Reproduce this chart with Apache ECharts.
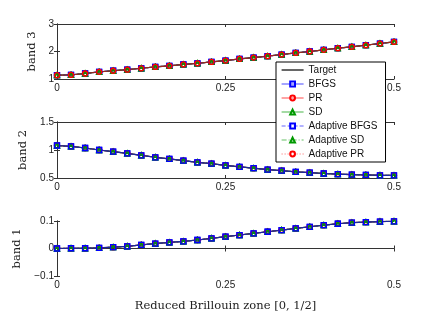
<!DOCTYPE html>
<html>
<head>
<meta charset="utf-8">
<script src="https://cdn.jsdelivr.net/npm/echarts@6/dist/echarts.min.js"></script>
<style>
  html, body { margin: 0; padding: 0; background: #fff; }
  #main { width: 436px; height: 327px; }
</style>
</head>
<body>
<div id="main"></div>
<script>
// k-points along the reduced zone
var kpts = [0, 0.0208, 0.0417, 0.0625, 0.0833, 0.1042, 0.125, 0.1458, 0.1667, 0.1875,
  0.2083, 0.2292, 0.25, 0.2708, 0.2917, 0.3125, 0.3333, 0.3542, 0.375, 0.3958,
  0.4167, 0.4375, 0.4583, 0.4792, 0.5];

// band energies (all methods coincide)
var band3 = [1.14, 1.15, 1.20, 1.26, 1.30, 1.34, 1.39, 1.44, 1.48, 1.53,
  1.57, 1.62, 1.67, 1.73, 1.78, 1.83, 1.89, 1.95, 2.00, 2.06,
  2.12, 2.17, 2.23, 2.29, 2.35];
var band2 = [1.08, 1.064, 1.036, 1.00, 0.97, 0.94, 0.905, 0.87, 0.84, 0.81,
  0.78, 0.755, 0.725, 0.70, 0.675, 0.65, 0.63, 0.61, 0.595, 0.58,
  0.57, 0.56, 0.555, 0.548, 0.546];
var band1 = [0, 0.001, 0.001, 0.002, 0.005, 0.008, 0.013, 0.018, 0.022, 0.026,
  0.031, 0.037, 0.043, 0.049, 0.055, 0.061, 0.067, 0.073, 0.079, 0.085,
  0.090, 0.094, 0.096, 0.098, 0.099];

var bandNames = ['band 3', 'band 2', 'band 1'];
var legendNames = ['Target', 'BFGS', 'PR', 'SD', 'Adaptive BFGS', 'Adaptive SD', 'Adaptive PR'];

var methods = {
  'Target':        { color: '#000000', symbol: 'circle',   type: 'solid' },
  'BFGS':          { color: '#0000ff', symbol: 'rect',     type: 'solid' },
  'PR':            { color: '#ff0000', symbol: 'circle',   type: 'solid' },
  'SD':            { color: '#009900', symbol: 'triangle', type: 'solid' },
  'Adaptive BFGS': { color: '#0000ff', symbol: 'rect',     type: [4, 2] },
  'Adaptive SD':   { color: '#009900', symbol: 'triangle', type: [5, 2, 1, 2] },
  'Adaptive PR':   { color: '#ff0000', symbol: 'circle',   type: [1, 2] }
};

// draw order per panel (last one ends up on top)
var orderTop = ['Target', 'Adaptive BFGS', 'Adaptive SD', 'Adaptive PR', 'BFGS', 'SD', 'PR'];
var orderLow = ['Target', 'Adaptive PR', 'Adaptive SD', 'Adaptive BFGS', 'PR', 'SD', 'BFGS'];

var bands = [band3, band2, band1];
var yRanges = [[1, 3, 1], [0.5, 1.5, 0.5], [-0.1, 0.1, 0.1]];
var grids = [
  { left: 57, right: 42, top: 24, height: 55 },
  { left: 57, right: 42, top: 122, height: 56 },
  { left: 57, right: 42, top: 221, height: 55 }
];

var tickFont = { fontFamily: 'Liberation Sans', fontSize: 10, color: '#222' };
var serif = { fontFamily: 'DejaVu Serif', fontSize: 11.5, color: '#222' };

function fmt(v) {
  var s = String(Math.round(v * 1000) / 1000);
  return s.replace('-', '\u2212');
}

var xAxes = [], yAxes = [], series = [];
for (var g = 0; g < 3; g++) {
  xAxes.push({
    gridIndex: g, type: 'value', min: 0, max: 0.5, interval: 0.25,
    axisLine: { lineStyle: { color: '#333' } },
    axisTick: { inside: true, length: 3, lineStyle: { color: '#333' } },
    axisLabel: Object.assign({ margin: 4, formatter: fmt }, tickFont),
    splitLine: { show: false },
    name: g == 2 ? 'Reduced Brillouin zone [0, 1/2]' : '',
    nameLocation: 'middle', nameGap: 24, nameTextStyle: serif
  });
  xAxes.push({
    gridIndex: g, type: 'value', min: 0, max: 0.5, interval: 0.25, position: 'top',
    axisLine: { lineStyle: { color: '#333' } },
    axisTick: { inside: true, length: 3, lineStyle: { color: '#333' } },
    axisLabel: { show: false }, splitLine: { show: false }
  });
  yAxes.push({
    gridIndex: g, type: 'value', min: yRanges[g][0], max: yRanges[g][1], interval: yRanges[g][2],
    axisLine: { show: true, lineStyle: { color: '#333' } },
    axisTick: { show: true, inside: true, length: 3, lineStyle: { color: '#333' } },
    axisLabel: Object.assign({ margin: 3, formatter: fmt }, tickFont),
    splitLine: { show: false },
    name: bandNames[g], nameLocation: 'middle', nameRotate: 90, nameGap: 18,
    nameTextStyle: serif
  });
  yAxes.push({
    gridIndex: g, type: 'value', min: yRanges[g][0], max: yRanges[g][1], interval: yRanges[g][2],
    position: 'right',
    axisLine: { show: true, lineStyle: { color: '#333' } },
    axisTick: { show: true, inside: true, length: 3, lineStyle: { color: '#333' } },
    axisLabel: { show: false }, splitLine: { show: false }
  });

  var order = g == 0 ? orderTop : orderLow;
  order.forEach(function (name) {
    var m = methods[name];
    var vals = bands[g];
    var isTarget = name == 'Target';
    series.push({
      name: name, type: 'line',
      xAxisIndex: g * 2, yAxisIndex: g * 2,
      data: kpts.map(function (k, i) { return [k, vals[i]]; }),
      symbol: m.symbol, symbolSize: 5, showSymbol: !isTarget,
      lineStyle: { color: m.color, width: isTarget ? 1 : 1.2, type: m.type,
        opacity: isTarget ? 1 : 0.6 },
      itemStyle: { color: 'rgba(255,255,255,0)',
        borderColor: isTarget ? 'rgba(0,0,0,0)' : m.color, borderWidth: 1.3 },
      emphasis: { disabled: true },
      animation: false
    });
  });
}

var chart = echarts.init(document.getElementById('main'), null, { renderer: 'canvas' });
chart.setOption({
  backgroundColor: '#fff',
  animation: false,
  grid: grids,
  xAxis: xAxes,
  yAxis: yAxes,
  legend: {
    data: legendNames,
    orient: 'vertical',
    left: 276, top: 62,
    backgroundColor: '#fff',
    borderColor: '#000', borderWidth: 1,
    padding: [3, 8, 3, 5],
    itemWidth: 22, itemHeight: 6, itemGap: 4,
    lineStyle: { width: 1.2 },
    textStyle: { fontFamily: 'Liberation Sans', fontSize: 10, color: '#111' },
    selectedMode: false,
    z: 10
  },
  series: series
});
</script>
</body>
</html>
